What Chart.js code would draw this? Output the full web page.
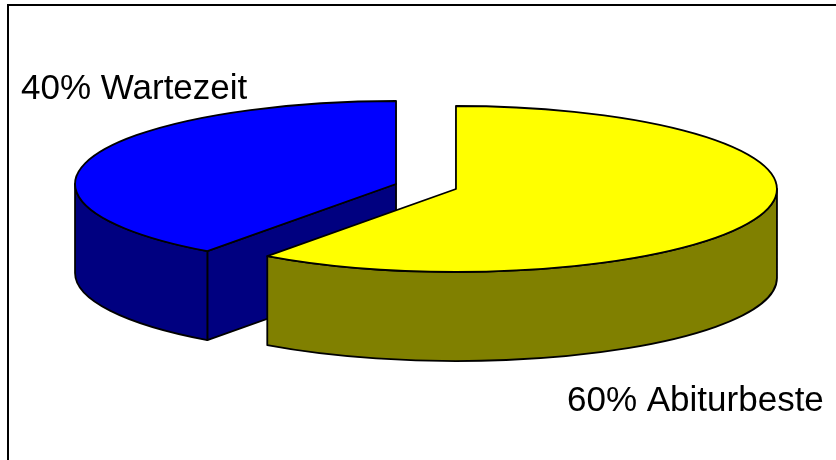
<!DOCTYPE html>
<html>
<head>
<meta charset="utf-8">
<script src="https://cdn.jsdelivr.net/npm/chart.js@4.4.1/dist/chart.umd.min.js"></script>
<style>
  html, body { margin: 0; padding: 0; background: #fff; }
  canvas { display: block; }
</style>
</head>
<body>
<canvas id="pieChart" width="836" height="460"></canvas>
<script>
const labels = ['Abiturbeste', 'Wartezeit'];
const shares = [60, 40];
const topColors = ['#ffff00', '#0000ff'];
const sideColors = ['#808000', '#000080'];

// geometry of the tilted pie (device pixels)
const CX = 426, CY = 186.5;
const RX = 321, RY = 83;
const DEPTH = 89;
const EXPLODE = 31.5;

const pie3d = {
  id: 'pie3d',
  beforeDraw(chart) {
    const ctx = chart.ctx;
    ctx.save();
    ctx.strokeStyle = '#000';
    ctx.lineWidth = 2;
    ctx.beginPath();
    ctx.moveTo(8, 470);
    ctx.lineTo(8, 5);
    ctx.lineTo(850, 5);
    ctx.stroke();
    ctx.restore();
  },
  beforeDatasetDraw(chart, args) {
    const ctx = chart.ctx;
    const arcs = args.meta.data;
    const geo = arcs.map((arc, i) => {
      const mid = (arc.startAngle + arc.endAngle) / 2;
      return {
        arc, i,
        a1: arc.startAngle, a2: arc.endAngle,
        mid,
        cx: CX + EXPLODE * Math.cos(mid),
        cy: CY + EXPLODE * RY / RX * Math.sin(mid)
      };
    });
    // back to front
    const order = geo.slice().sort((p, q) => Math.sin(p.mid) - Math.sin(q.mid));

    ctx.save();
    ctx.lineWidth = 1.8;
    ctx.strokeStyle = '#000';
    ctx.lineJoin = 'round';

    order.forEach(g => {
      ctx.fillStyle = sideColors[g.i];
      // radial cut faces that look toward the viewer
      [[g.a1, -1], [g.a2, 1]].forEach(([a, dir]) => {
        if (dir * Math.cos(a) > 1e-6) {
          const px = g.cx + RX * Math.cos(a), py = g.cy + RY * Math.sin(a);
          ctx.beginPath();
          ctx.moveTo(g.cx, g.cy);
          ctx.lineTo(px, py);
          ctx.lineTo(px, py + DEPTH);
          ctx.lineTo(g.cx, g.cy + DEPTH);
          ctx.closePath();
          ctx.fill();
          ctx.stroke();
        }
      });
      // outer wall, front half only
      [-1, 0, 1].forEach(k => {
        const lo = Math.max(g.a1, 2 * Math.PI * k);
        const hi = Math.min(g.a2, 2 * Math.PI * k + Math.PI);
        if (hi - lo > 1e-6) {
          ctx.beginPath();
          ctx.ellipse(g.cx, g.cy, RX, RY, 0, lo, hi, false);
          ctx.ellipse(g.cx, g.cy + DEPTH, RX, RY, 0, hi, lo, true);
          ctx.closePath();
          ctx.fill();
          ctx.stroke();
        }
      });
    });

    // top faces drawn by the arc elements, squashed into an ellipse
    geo.forEach(g => {
      const arc = g.arc;
      const R = arc.outerRadius;
      ctx.save();
      ctx.translate(g.cx, g.cy);
      ctx.scale(RX / R, RY / R);
      ctx.translate(-arc.x, -arc.y);
      arc.draw(ctx);
      ctx.restore();

      ctx.beginPath();
      ctx.save();
      ctx.translate(g.cx, g.cy);
      ctx.scale(RX / R, RY / R);
      ctx.translate(-arc.x, -arc.y);
      ctx.moveTo(arc.x, arc.y);
      ctx.arc(arc.x, arc.y, R, g.a1, g.a2);
      ctx.closePath();
      ctx.restore();
      ctx.stroke();
    });
    ctx.restore();
    return false;
  },
  afterDraw(chart) {
    const ctx = chart.ctx;
    ctx.save();
    ctx.fillStyle = '#000';
    ctx.font = '35px "Liberation Sans", Arial, sans-serif';
    ctx.textBaseline = 'alphabetic';
    ctx.textAlign = 'left';
    ctx.fillText(shares[1] + '% ' + labels[1], 21, 99);
    ctx.fillText(shares[0] + '% ' + labels[0], 567, 411);
    ctx.restore();
  }
};

new Chart(document.getElementById('pieChart'), {
  type: 'pie',
  data: {
    labels: labels,
    datasets: [{
      data: shares,
      backgroundColor: topColors,
      borderWidth: 0
    }]
  },
  options: {
    responsive: false,
    animation: false,
    plugins: {
      legend: { display: false },
      tooltip: { enabled: false }
    }
  },
  plugins: [pie3d]
});
</script>
</body>
</html>
